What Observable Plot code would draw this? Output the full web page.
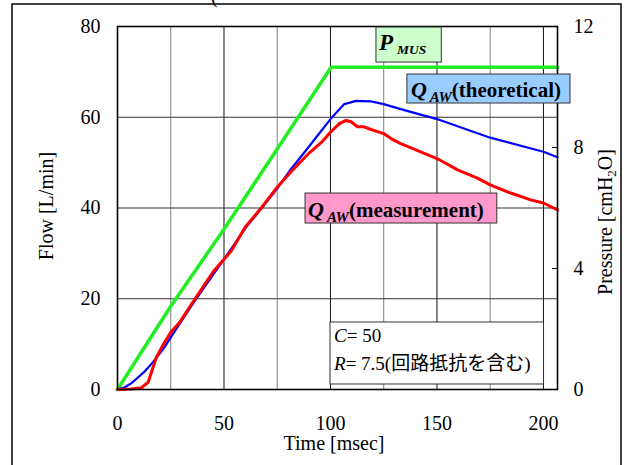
<!DOCTYPE html>
<html><head><meta charset="utf-8">
<script src="https://cdn.jsdelivr.net/npm/d3@7"></script>
<script src="https://cdn.jsdelivr.net/npm/@observablehq/plot@0.6"></script>
<style>
body{margin:0;background:#fff;}
#chart{width:629px;height:465px;overflow:hidden;position:relative;}
</style>
</head><body><div id="chart"></div>
<script>
// ---- data ----
const timeTicks = [0, 50, 100, 150, 200];
const flowTicks = [0, 20, 40, 60, 80];
const pressureTicks = [0, 4, 8, 12];
const gridMajor = [50, 100, 150, 200];
const gridMinor = [25, 75, 125, 175];
const gridFlow = [20, 40, 60];

// P_MUS (cmH2O)
const pMusTime     = [0, 25, 50, 75, 100.3, 150, 206.6];
const pMusPressure = [0, 2.75, 5.3, 7.95, 10.65, 10.65, 10.65];

// Q_AW theoretical (L/min)
const qTheoTime = [0, 3.4, 6.6, 9.7, 12.8, 15.9, 19.1, 22.2, 25, 35.4, 51.9, 60, 68.3, 75, 81.5, 87.8, 100, 106.5, 112, 119, 125, 133, 150, 175, 200, 206.6];
const qTheoFlow = [0, 0.5, 1.4, 2.7, 4.0, 5.6, 7.5, 9.4, 11.5, 18.9, 30.0, 35.5, 40.3, 44.3, 48.6, 52.3, 59.6, 62.9, 63.6, 63.5, 62.9, 61.8, 59.6, 55.5, 52.4, 51.2];

// Q_AW measurement (L/min)
const qMeasTime = [0, 6.6, 11.3, 14.4, 16.7, 18.3, 21, 25, 29.2, 34.7, 45, 53.4, 60, 67.5, 75, 81.5, 89.3, 95.6, 100, 104.2, 107.3, 109.7, 112.7, 115.8, 119, 125, 128.4, 133, 150, 159.7, 169, 175, 184.6, 194, 200, 206.6];
const qMeasFlow = [0, 0.1, 0.4, 1.6, 4.9, 7.1, 9.5, 12.6, 14.8, 18.8, 26.0, 30.5, 35.8, 40.0, 44.6, 48.0, 51.8, 54.4, 56.7, 58.6, 59.3, 59.0, 57.9, 57.9, 57.3, 56.4, 55.3, 54.2, 50.9, 48.4, 46.6, 45.1, 43.3, 41.8, 41.1, 39.6];

const FLOW_PER_CMH2O = 80 / 12;

const pMus = pMusTime.map((t, i) => ({t, p: pMusPressure[i]}));
const qTheo = qTheoTime.map((t, i) => ({t, f: qTheoFlow[i]}));
const qMeas = qMeasTime.map((t, i) => ({t, f: qMeasFlow[i]}));

const serif = "'Liberation Serif','Times New Roman',serif";
const cjk = "'Noto Sans CJK JP','Noto Sans CJK SC',sans-serif";

const chart = Plot.plot({
  width: 629, height: 465,
  marginLeft: 117, marginRight: 72, marginTop: 26, marginBottom: 76,
  x: {domain: [0, 206.6]},
  y: {domain: [0, 80]},
  style: {fontFamily: serif, fontSize: "20px", background: "white", color: "black", overflow: "visible"},
  marks: [
    Plot.ruleX(gridMinor, {stroke: "#808080", strokeWidth: 1}),
    Plot.ruleX(gridMajor, {stroke: "#111", strokeWidth: 1}),
    Plot.ruleY(gridFlow, {stroke: "#333", strokeWidth: 1}),
    Plot.line(pMus, {x: "t", y: d => d.p * FLOW_PER_CMH2O, stroke: "#22ee22", strokeWidth: 3.5, strokeLinejoin: "round"}),
    Plot.line(qTheo, {x: "t", y: "f", stroke: "#0000ff", strokeWidth: 2.2, strokeLinejoin: "round"}),
    Plot.line(qMeas, {x: "t", y: "f", stroke: "#ff0000", strokeWidth: 3, strokeLinejoin: "round"}),
    Plot.frame({stroke: "black", strokeWidth: 1.6}),
    Plot.axisX({ticks: timeTicks, tickSize: 0, tickPadding: 26, label: null, fontSize: 20}),
    Plot.axisY({ticks: flowTicks, tickSize: 0, tickPadding: 17, label: null, fontSize: 20}),
    Plot.axisY({anchor: "right", ticks: pressureTicks.map(p => p * FLOW_PER_CMH2O),
      tickFormat: d => String(Math.round(d / FLOW_PER_CMH2O)), tickSize: -6, tickPadding: 22, label: null, fontSize: 20})
  ]
});
document.getElementById("chart").append(chart);

const xs = chart.scale("x"), ys = chart.scale("y");
const X = t => xs.apply(t), Y = f => ys.apply(f);
const svg = d3.select(chart);

// outer frame
svg.insert("rect", ":first-child").attr("x", 12).attr("y", 4).attr("width", 609).attr("height", 600)
  .attr("fill", "none").attr("stroke", "black").attr("stroke-width", 1.5);
// cut-off character at top (partly hidden above the picture, as in the source)
svg.append("text").attr("x", 211).attr("y", 3).attr("text-anchor", "start").attr("font-family", serif).attr("font-size", 20).text("(");

// axis titles
svg.append("text").attr("x", 334).attr("y", 450).attr("text-anchor", "middle")
  .attr("font-family", serif).attr("font-size", 20).text("Time [msec]");
svg.append("text").attr("transform", "translate(46,206) rotate(-90)").attr("text-anchor", "middle").attr("dy", "0.35em")
  .attr("font-family", serif).attr("font-size", 20).text("Flow [L/min]");
const pt = svg.append("text").attr("transform", "translate(605,222) rotate(-90)").attr("text-anchor", "middle").attr("dy", "0.35em")
  .attr("font-family", serif).attr("font-size", 20);
pt.append("tspan").text("Pressure [cmH");
pt.append("tspan").attr("font-size", 13).attr("dy", 4).text("2");
pt.append("tspan").attr("dy", -4).text("O]");

// rich labels with boxes
function richLabel(t, f, parts, box) {
  const g = svg.append("g");
  const rect = g.append("rect");
  const txt = g.append("text").attr("x", X(t)).attr("y", Y(f)).attr("font-family", serif).attr("text-anchor", "start");
  parts.forEach(p => {
    const ts = txt.append("tspan").text(p.text).attr("font-size", p.size || 21)
      .attr("font-weight", p.bold ? "bold" : "normal").attr("font-style", p.italic ? "italic" : "normal");
    if (p.dy) ts.attr("dy", p.dy);
    if (p.dx) ts.attr("dx", p.dx);
    if (p.family) ts.attr("font-family", p.family);
  });
  const bb = txt.node().getBBox();
  const x0 = X(t) - box.left, y0 = Y(f) + box.top;
  rect.attr("x", x0).attr("y", y0).attr("width", bb.x + bb.width + box.right - x0)
    .attr("height", box.bottom - box.top).attr("fill", box.fill).attr("stroke", box.stroke || "#333").attr("stroke-width", 1);
  return txt;
}

richLabel(123.0, 74.7, [
  {text: "P", size: 23, bold: true, italic: true},
  {text: "MUS", size: 13.5, bold: true, italic: true, dx: 4, dy: 4}
], {left: 3, top: -23, right: 15, bottom: 12, fill: "#ccffcc"});

richLabel(138.0, 64.35, [
  {text: "Q", size: 22, bold: true, italic: true},
  {text: "AW", size: 15, bold: true, italic: true, dx: 3, dy: 5},
  {text: "(theoretical)", size: 21, bold: true, dy: -5}
], {left: 4, top: -23, right: 9, bottom: 6, fill: "#99ccff"});

richLabel(89.7, 37.9, [
  {text: "Q", size: 22, bold: true, italic: true},
  {text: "AW", size: 15, bold: true, italic: true, dx: 3, dy: 5},
  {text: "(measurement)", size: 21, bold: true, dy: -5}
], {left: 3, top: -24, right: 13, bottom: 6, fill: "#ff99cc"});

// annotation box
const ag = svg.append("g");
const arect = ag.append("rect");
const l1 = ag.append("text").attr("x", X(101.9)).attr("y", Y(10.36)).attr("text-anchor", "start").attr("font-family", serif).attr("font-size", 19);
l1.append("tspan").attr("font-style", "italic").text("C");
l1.append("tspan").text("= 50");
const l2 = ag.append("text").attr("x", X(101.9)).attr("y", Y(4.19)).attr("text-anchor", "start").attr("font-family", serif).attr("font-size", 19);
l2.append("tspan").attr("font-style", "italic").text("R");
l2.append("tspan").text("= 7.5(");
l2.append("tspan").attr("font-family", cjk).attr("font-size", 19).text("回路抵抗を含む");
l2.append("tspan").text(")");
const b2 = l2.node().getBBox();
const ax0 = X(101.9) - 4, ay0 = Y(10.36) - 20;
arect.attr("x", ax0).attr("y", ay0).attr("width", b2.x + b2.width + 13 - ax0).attr("height", Y(4.19) + 14 - ay0)
  .attr("fill", "white").attr("stroke", "#333").attr("stroke-width", 1);
</script>
</body></html>
